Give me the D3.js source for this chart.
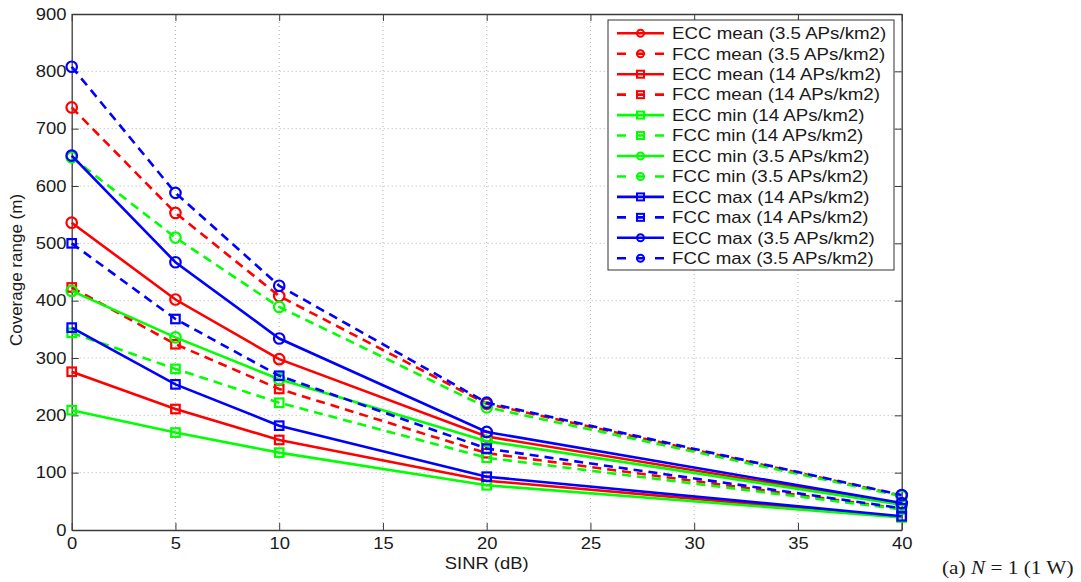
<!DOCTYPE html>
<html>
<head>
<meta charset="utf-8">
<script src="https://cdn.jsdelivr.net/npm/d3@7/dist/d3.min.js"></script>
<style>
  html, body { margin: 0; padding: 0; background: #fff; }
  svg { display: block; }
  text { font-family: "Liberation Sans", Arial, Helvetica, sans-serif; fill: #1a1a1a; }
</style>
</head>
<body>
<svg id="chart" width="1081" height="582"></svg>
<script>
// SINR values on the x axis (dB)
const sinr = [0, 5, 10, 20, 40];

// Coverage range (m) for each scheme / statistic / AP density
const eccMean35 = [536, 402, 298, 163, 45];
const fccMean35 = [737, 553, 408, 220, 60];
const eccMean14 = [276, 211, 157, 86, 23];
const fccMean14 = [423, 324, 246, 134, 37];
const eccMin14  = [209, 170, 135, 78, 22];
const fccMin14  = [344, 281, 222, 126, 36];
const eccMin35  = [417, 336, 263, 155, 44];
const fccMin35  = [650, 510, 389, 214, 59];
const eccMax14  = [353, 254, 182, 93, 24];
const fccMax14  = [500, 368, 269, 142, 38];
const eccMax35  = [653, 467, 334, 171, 47];
const fccMax35  = [808, 588, 426, 222, 61];

const seriesLabels = [
  "ECC mean (3.5 APs/km2)", "FCC mean (3.5 APs/km2)",
  "ECC mean (14 APs/km2)",  "FCC mean (14 APs/km2)",
  "ECC min (14 APs/km2)",   "FCC min (14 APs/km2)",
  "ECC min (3.5 APs/km2)",  "FCC min (3.5 APs/km2)",
  "ECC max (14 APs/km2)",   "FCC max (14 APs/km2)",
  "ECC max (3.5 APs/km2)",  "FCC max (3.5 APs/km2)"
];
const seriesValues = [
  eccMean35, fccMean35, eccMean14, fccMean14,
  eccMin14, fccMin14, eccMin35, fccMin35,
  eccMax14, fccMax14, eccMax35, fccMax35
];

const xTicks = [0, 5, 10, 15, 20, 25, 30, 35, 40];
const yTicks = [0, 100, 200, 300, 400, 500, 600, 700, 800, 900];

const xLabel = "SINR (dB)";
const yLabel = "Coverage range (m)";
const caption = ["(a) ", "N", " = 1 (1 W)"];

// styling per series: colour, dashed (FCC) or solid (ECC), marker shape
const RED = "#ff0000", GREEN = "#00ff00", BLUE = "#0000ff";
const styles = [
  [RED, false, "o"], [RED, true, "o"], [RED, false, "s"], [RED, true, "s"],
  [GREEN, false, "s"], [GREEN, true, "s"], [GREEN, false, "o"], [GREEN, true, "o"],
  [BLUE, false, "s"], [BLUE, true, "s"], [BLUE, false, "o"], [BLUE, true, "o"]
];

const series = seriesLabels.map((label, i) => ({
  label,
  values: seriesValues[i].map((v, j) => ({ x: sinr[j], y: v })),
  color: styles[i][0],
  dashed: styles[i][1],
  marker: styles[i][2]
}));

const STRETCH = 1.15; // horizontal glyph stretch used for the text
const svg = d3.select("#chart");

const plotL = 71.7, plotR = 901.7, plotT = 14, plotB = 530;
const x = d3.scaleLinear().domain([0, 40]).range([plotL, plotR]);
const y = d3.scaleLinear().domain([0, 900]).range([plotB, plotT]);

// dotted grid
const grid = svg.append("g").attr("stroke", "#b4b4b4").attr("stroke-width", 1)
  .attr("stroke-dasharray", "1,3");
grid.selectAll("line.vx").data(xTicks.slice(1, -1)).join("line")
  .attr("x1", d => x(d)).attr("x2", d => x(d)).attr("y1", plotT).attr("y2", plotB);
grid.selectAll("line.hy").data(yTicks.slice(1, -1)).join("line")
  .attr("x1", plotL).attr("x2", plotR).attr("y1", d => y(d)).attr("y2", d => y(d));

// axes with inward ticks on all four sides
const TICK = 7;
const axisColor = "#3a3a3a";
function styleAxis(g) {
  g.select(".domain").attr("stroke", axisColor).attr("stroke-width", 1.3);
  g.selectAll(".tick line").attr("stroke", axisColor).attr("stroke-width", 1);
  g.selectAll(".tick text").attr("font-size", 16).attr("fill", "#1a1a1a")
    .style("font-family", '"Liberation Sans", Arial, sans-serif');
}
svg.append("g").attr("transform", `translate(0,${plotB})`)
  .call(d3.axisBottom(x).tickValues(xTicks).tickSizeInner(-TICK).tickSizeOuter(0).tickPadding(8))
  .call(styleAxis)
  .call(g => g.selectAll(".tick text").attr("transform", `scale(${STRETCH},1)`));
svg.append("g").attr("transform", `translate(${plotL},0)`)
  .call(d3.axisLeft(y).tickValues(yTicks).tickSizeInner(-TICK).tickSizeOuter(0).tickPadding(4.5))
  .call(styleAxis)
  .call(g => g.selectAll(".tick text").attr("transform", `scale(${STRETCH},1)`));
svg.append("g").attr("transform", `translate(0,${plotT})`)
  .call(d3.axisTop(x).tickValues(xTicks).tickSizeInner(-TICK).tickSizeOuter(0).tickFormat(""))
  .call(styleAxis);
svg.append("g").attr("transform", `translate(${plotR},0)`)
  .call(d3.axisRight(y).tickValues(yTicks).tickSizeInner(-TICK).tickSizeOuter(0).tickFormat(""))
  .call(styleAxis);

// axis titles
svg.append("text")
  .attr("transform", `translate(${(plotL + plotR) / 2},569) scale(${STRETCH},1)`)
  .attr("text-anchor", "middle").attr("font-size", 16).text(xLabel);
svg.append("text")
  .attr("transform", "translate(21.5,270) rotate(-90)")
  .attr("text-anchor", "middle").attr("font-size", 17).text(yLabel);

// markers
function drawMarker(sel, shape, size) {
  if (shape === "o") {
    return sel.append("circle").attr("r", size / 2);
  }
  return sel.append("rect").attr("x", -size / 2).attr("y", -size / 2)
    .attr("width", size).attr("height", size);
}

// series lines and markers
const line = d3.line().x(d => x(d.x)).y(d => y(d.y));
const plot = svg.append("g");
series.forEach(s => {
  const g = plot.append("g");
  g.append("path").datum(s.values)
    .attr("d", line).attr("fill", "none").attr("stroke", s.color)
    .attr("stroke-width", 2.6)
    .attr("stroke-dasharray", s.dashed ? "9,6" : null);
  g.selectAll("g.m").data(s.values).join("g")
    .attr("transform", d => `translate(${x(d.x)},${y(d.y)})`)
    .each(function () {
      drawMarker(d3.select(this), s.marker, s.marker === "o" ? 10.5 : 8.5)
        .attr("fill", "none").attr("stroke", s.color).attr("stroke-width", 2.2);
    });
});

// legend
const lgX = 608, lgY = 20, lgW = 286, lgH = 250, rowGap = 20.45, row0 = 33.3;
const lg = svg.append("g");
lg.append("rect").attr("x", lgX).attr("y", lgY).attr("width", lgW).attr("height", lgH)
  .attr("fill", "#fff").attr("stroke", "#333").attr("stroke-width", 1);
series.forEach((s, i) => {
  const cy = row0 + i * rowGap;
  const r = lg.append("g");
  r.append("line").attr("x1", 617).attr("x2", 664).attr("y1", cy).attr("y2", cy)
    .attr("stroke", s.color).attr("stroke-width", 2.6)
    .attr("stroke-dasharray", s.dashed ? "9,10" : null);
  drawMarker(r.append("g").attr("transform", `translate(640.5,${cy})`), s.marker, 7)
    .attr("fill", "none").attr("stroke", s.color).attr("stroke-width", 2);
  r.append("text").attr("transform", `translate(672,${cy + 5.8}) scale(1.17,1)`)
    .attr("font-size", 16).text(s.label);
});

// sub-figure caption
const cap = svg.append("text")
  .attr("transform", `translate(942,574) scale(${STRETCH},1)`)
  .attr("font-size", 18.5)
  .style("font-family", '"Liberation Serif", "Times New Roman", serif');
cap.append("tspan").text(caption[0]);
cap.append("tspan").attr("font-style", "italic").text(caption[1]);
cap.append("tspan").text(caption[2]);
</script>
</body>
</html>
